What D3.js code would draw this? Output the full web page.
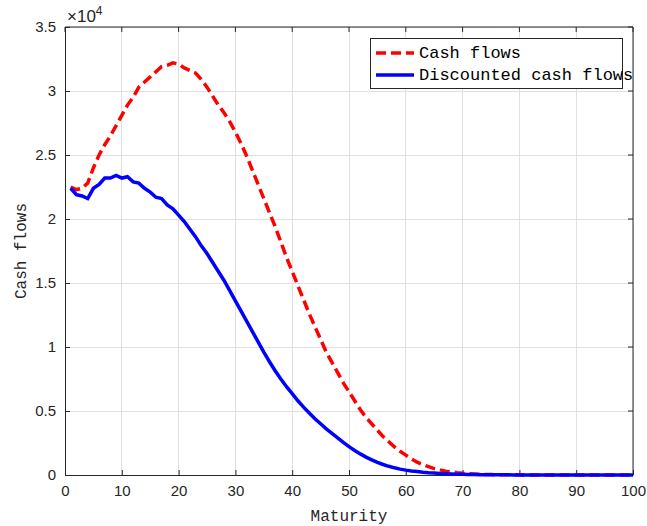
<!DOCTYPE html>
<html><head><meta charset="utf-8">
<script src="https://cdn.jsdelivr.net/npm/d3@7"></script>
<style>body{margin:0;background:#fff}svg{display:block}</style>
</head><body>
<script>
const maturity = d3.range(1, 101);
const cashFlows = [2.25,2.23,2.24,2.28,2.40,2.50,2.58,2.65,2.73,2.81,
 2.89,2.95,3.03,3.07,3.11,3.15,3.19,3.20,3.22,3.21,
 3.18,3.16,3.14,3.09,3.03,2.96,2.89,2.83,2.76,2.68,
 2.59,2.49,2.38,2.27,2.16,2.05,1.94,1.82,1.70,1.59,
 1.48,1.37,1.26,1.16,1.06,0.96,0.88,0.80,0.72,0.65,
 0.58,0.51,0.45,0.40,0.35,0.30,0.26,0.22,0.185,0.155,
 0.125,0.10,0.08,0.065,0.05,0.04,0.03,0.025,0.018,0.013,
 0.010,0.008,0.006,0.004,0.003,0.002,0.002,0.001,0.001,0.001,
 0,0,0,0,0,0,0,0,0,0,0,0,0,0,0,0,0,0,0,0].map(v => v * 1e4);
const discounted = [2.24,2.19,2.18,2.16,2.24,2.27,2.32,2.32,2.34,2.32,
 2.33,2.29,2.28,2.24,2.21,2.17,2.16,2.11,2.08,2.03,
 1.98,1.92,1.86,1.79,1.73,1.66,1.59,1.52,1.44,1.36,
 1.28,1.20,1.12,1.04,0.96,0.885,0.815,0.75,0.69,0.635,
 0.58,0.53,0.485,0.44,0.40,0.36,0.325,0.29,0.255,0.222,
 0.192,0.165,0.14,0.118,0.098,0.082,0.068,0.056,0.046,0.038,
 0.032,0.027,0.022,0.018,0.015,0.012,0.010,0.008,0.006,0.005,
 0.004,0.003,0.002,0.002,0.001,0.001,0.001,0.001,0,0,
 0,0,0,0,0,0,0,0,0,0,0,0,0,0,0,0,0,0,0,0].map(v => v * 1e4);
const xTicks = [0,10,20,30,40,50,60,70,80,90,100];
const yTicks = [0,5000,10000,15000,20000,25000,30000,35000];
const yTickLabels = ["0","0.5","1","1.5","2","2.5","3","3.5"];
const seriesNames = ["Cash flows","Discounted cash flows"];

const W = 647, H = 526;
const m = {left: 65, right: 633, top: 27, bottom: 475};
const svg = d3.select("body").append("svg").attr("width", W).attr("height", H);
const x = d3.scaleLinear().domain([0, 100]).range([m.left, m.right]);
const y = d3.scaleLinear().domain([0, 35000]).range([m.bottom, m.top]);
const axisCol = "#262626", gridCol = "#dfdfdf";
const tickFont = "'Liberation Sans', Arial, sans-serif";
const monoFont = "'Liberation Mono', 'Courier New', monospace";

// grid
const g = svg.append("g");
g.selectAll(".gx").data(xTicks).join("line")
  .attr("x1", d => x(d)).attr("x2", d => x(d)).attr("y1", m.top).attr("y2", m.bottom)
  .attr("stroke", gridCol).attr("stroke-width", 1).attr("shape-rendering", "crispEdges");
g.selectAll(".gy").data(yTicks).join("line")
  .attr("y1", d => y(d)).attr("y2", d => y(d)).attr("x1", m.left).attr("x2", m.right)
  .attr("stroke", gridCol).attr("stroke-width", 1).attr("shape-rendering", "crispEdges");

// axes
const xAxis = d3.axisBottom(x).tickValues(xTicks).tickSizeInner(-5).tickSizeOuter(0).tickPadding(10);
const yAxis = d3.axisLeft(y).tickValues(yTicks).tickFormat((d, i) => yTickLabels[i]).tickSizeInner(-5).tickSizeOuter(0).tickPadding(9);
const gx = svg.append("g").attr("transform", `translate(0,${m.bottom})`).call(xAxis);
const gy = svg.append("g").attr("transform", `translate(${m.left},0)`).call(yAxis);
[gx, gy].forEach(a => {
  a.select(".domain").attr("stroke", axisCol);
  a.selectAll(".tick line").attr("stroke", axisCol);
  a.selectAll(".tick text").attr("fill", axisCol).style("font-family", tickFont).style("font-size", "15px");
});
// top and right box lines
svg.append("line").attr("x1", m.left).attr("x2", m.right).attr("y1", m.top).attr("y2", m.top).attr("stroke", axisCol);
svg.append("line").attr("x1", m.right).attr("x2", m.right).attr("y1", m.top).attr("y2", m.bottom).attr("stroke", axisCol);
svg.append("g").selectAll("line").data(xTicks).join("line")
  .attr("x1", d => x(d)).attr("x2", d => x(d)).attr("y1", m.top).attr("y2", m.top + 5).attr("stroke", axisCol);
svg.append("g").selectAll("line").data(yTicks).join("line")
  .attr("y1", d => y(d)).attr("y2", d => y(d)).attr("x1", m.right).attr("x2", m.right - 5).attr("stroke", axisCol);

// exponent
const ex = svg.append("text").attr("x", m.left + 2).attr("y", 22).attr("fill", axisCol)
  .style("font-family", tickFont).style("font-size", "17px");
ex.append("tspan").text("×10");
ex.append("tspan").attr("dy", -7).style("font-size", "12px").text("4");

// labels
svg.append("text").attr("x", (m.left + m.right) / 2).attr("y", 521).attr("text-anchor", "middle")
  .attr("fill", axisCol).style("font-family", monoFont).style("font-size", "16px").text("Maturity");
svg.append("text").attr("transform", `translate(26,${(m.top + m.bottom) / 2}) rotate(-90)`).attr("text-anchor", "middle")
  .attr("fill", axisCol).style("font-family", monoFont).style("font-size", "16px").text("Cash flows");

// lines
const clip = svg.append("clipPath").attr("id", "clip").append("rect")
  .attr("x", m.left).attr("y", m.top).attr("width", m.right - m.left).attr("height", m.bottom - m.top + 3);
const line = d3.line().x((d, i) => x(maturity[i])).y(d => y(d));
svg.append("path").datum(cashFlows).attr("d", line).attr("fill", "none")
  .attr("stroke", "#ff0000").attr("stroke-width", 3.5).attr("stroke-dasharray", "10,5");
svg.append("path").datum(discounted).attr("d", line).attr("fill", "none")
  .attr("stroke", "#0000ff").attr("stroke-width", 3.5);

// legend
const lg = svg.append("g").attr("clip-path", "url(#clip)");
lg.append("rect").attr("x", 370.5).attr("y", 38.5).attr("width", 252).attr("height", 50)
  .attr("fill", "#fff").attr("stroke", axisCol).attr("stroke-width", 1);
const colors = ["#ff0000", "#0000ff"], dashes = ["10,5", null];
seriesNames.forEach((n, i) => {
  const yy = 53 + i * 22;
  lg.append("line").attr("x1", 376).attr("x2", 414).attr("y1", yy).attr("y2", yy)
    .attr("stroke", colors[i]).attr("stroke-width", 3.5).attr("stroke-dasharray", dashes[i]);
  lg.append("text").attr("x", 419).attr("y", yy + 5).attr("fill", "#000")
    .style("font-family", monoFont).style("font-size", "17px").text(n);
});
</script>
</body></html>
